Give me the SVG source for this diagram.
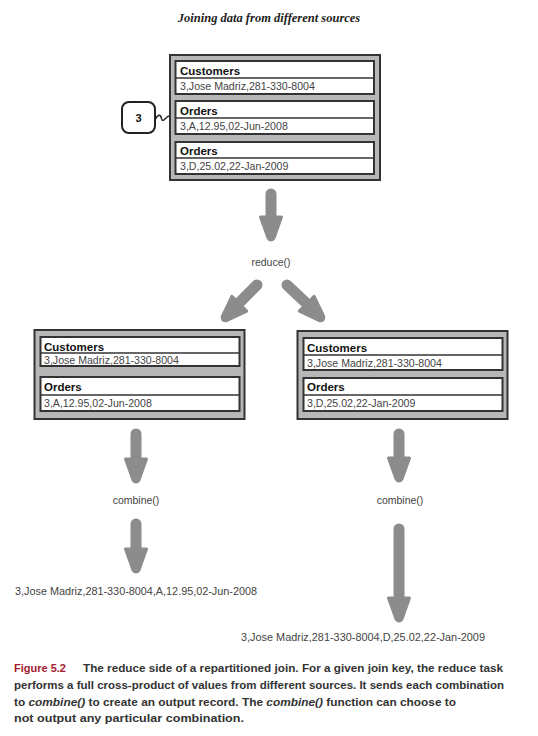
<svg xmlns="http://www.w3.org/2000/svg" width="538" height="736" viewBox="0 0 538 736">
<style>
.outer{fill:#b7b7b7;stroke:#333;stroke-width:2}
.inner{fill:#fff;stroke:#333;stroke-width:2}
.sep{stroke:#333;stroke-width:1.5}
.hdr{font-family:"Liberation Sans",Arial,sans-serif;font-weight:bold;font-size:11.5px;fill:#111}
.dat{font-family:"Liberation Sans",Arial,sans-serif;font-size:10.6px;fill:#444}
.lbl{font-family:"Liberation Sans",Arial,sans-serif;font-size:10.5px;fill:#444}
.shaft{stroke:#8c8c8c;stroke-width:11;stroke-linecap:round;fill:none}
.cap{font-family:"Liberation Sans",Arial,sans-serif;font-weight:bold;font-size:11px;fill:#333}
</style>
<defs>
<path id="head" d="M-10.5,-23 L10.5,-23 L3,-2 Q0,2 -3,-2 Z" fill="#8c8c8c" stroke="#8c8c8c" stroke-width="3" stroke-linejoin="round"/>
</defs>
<text x="269" y="22" text-anchor="middle" font-family="'Liberation Serif','Times New Roman',serif" font-weight="bold" font-style="italic" font-size="12.5" fill="#222">Joining data from different sources</text>

<g id="top-record">
<rect class="outer" x="170" y="55" width="210" height="125"/>
<rect class="inner" x="175.5" y="61" width="198.5" height="33"/>
<line class="sep" x1="175.5" y1="78" x2="374" y2="78"/>
<text class="hdr" x="180" y="75">Customers</text>
<text class="dat" x="180" y="89.5">3,Jose Madriz,281-330-8004</text>
<rect class="inner" x="175.5" y="101" width="198.5" height="33"/>
<line class="sep" x1="175.5" y1="118" x2="374" y2="118"/>
<text class="hdr" x="180" y="115">Orders</text>
<text class="dat" x="180" y="129.5">3,A,12.95,02-Jun-2008</text>
<rect class="inner" x="175.5" y="142" width="198.5" height="32"/>
<line class="sep" x1="175.5" y1="158" x2="374" y2="158"/>
<text class="hdr" x="180" y="155">Orders</text>
<text class="dat" x="180" y="169.5">3,D,25.02,22-Jan-2009</text>
</g>

<g id="key-label">
<rect x="122" y="102" width="33" height="31" rx="7" fill="#fff" stroke="#222" stroke-width="2"/>
<text x="138.5" y="122" text-anchor="middle" font-family="'Liberation Sans',Arial,sans-serif" font-weight="bold" font-size="11" fill="#111">3</text>
<path d="M155,120 C157,115 160,114 161,117 S162,122 165,119 S168,116 170,116" fill="none" stroke="#222" stroke-width="1.5"/>
</g>

<g id="left-record">
<rect class="outer" x="34.5" y="330" width="210" height="89"/>
<rect class="inner" x="40.5" y="337" width="199" height="29"/>
<line class="sep" x1="40.5" y1="353" x2="239.5" y2="353"/>
<text class="hdr" x="44" y="350.5">Customers</text>
<text class="dat" x="44" y="363.5">3,Jose Madriz,281-330-8004</text>
<rect class="inner" x="40.5" y="377" width="199" height="34"/>
<line class="sep" x1="40.5" y1="395" x2="239.5" y2="395"/>
<text class="hdr" x="44" y="391">Orders</text>
<text class="dat" x="44" y="406.5">3,A,12.95,02-Jun-2008</text>
</g>

<g id="right-record">
<rect class="outer" x="297.5" y="331" width="210" height="88"/>
<rect class="inner" x="303.5" y="338" width="199" height="32"/>
<line class="sep" x1="303.5" y1="355" x2="502.5" y2="355"/>
<text class="hdr" x="307" y="352">Customers</text>
<text class="dat" x="307" y="366.5">3,Jose Madriz,281-330-8004</text>
<rect class="inner" x="303.5" y="378" width="199" height="33"/>
<line class="sep" x1="303.5" y1="395" x2="502.5" y2="395"/>
<text class="hdr" x="307" y="391">Orders</text>
<text class="dat" x="307" y="406.5">3,D,25.02,22-Jan-2009</text>
</g>

<g id="connectors">
<line class="shaft" x1="271" y1="194" x2="271" y2="220"/>
<use href="#head" transform="translate(271,240)"/>
<line class="shaft" x1="257" y1="285" x2="240" y2="302"/>
<use href="#head" transform="translate(223,320) rotate(45)"/>
<line class="shaft" x1="287" y1="285" x2="305" y2="302"/>
<use href="#head" transform="translate(323,320) rotate(-45)"/>
<line class="shaft" x1="136" y1="434" x2="136" y2="460"/>
<use href="#head" transform="translate(136,482)"/>
<line class="shaft" x1="136" y1="524" x2="136" y2="550"/>
<use href="#head" transform="translate(136,572)"/>
<line class="shaft" x1="399" y1="434" x2="399" y2="460"/>
<use href="#head" transform="translate(399,481)"/>
<line class="shaft" x1="399" y1="529" x2="399" y2="598"/>
<use href="#head" transform="translate(399,621)"/>
</g>

<text class="lbl" x="271" y="266" text-anchor="middle">reduce()</text>
<text class="lbl" x="136" y="504" text-anchor="middle">combine()</text>
<text class="lbl" x="400" y="504" text-anchor="middle">combine()</text>
<text class="lbl" x="15" y="595" textLength="242" lengthAdjust="spacingAndGlyphs">3,Jose Madriz,281-330-8004,A,12.95,02-Jun-2008</text>
<text class="lbl" x="241" y="641" textLength="244" lengthAdjust="spacingAndGlyphs">3,Jose Madriz,281-330-8004,D,25.02,22-Jan-2009</text>

<text class="cap" x="14" y="672"><tspan fill="#a31a30">Figure 5.2</tspan></text>
<text class="cap" x="83" y="672" textLength="420" lengthAdjust="spacingAndGlyphs">The reduce side of a repartitioned join. For a given join key, the reduce task</text>
<text class="cap" x="14" y="689" textLength="490" lengthAdjust="spacingAndGlyphs">performs a full cross-product of values from different sources. It sends each combination</text>
<text class="cap" x="14" y="706" textLength="442" lengthAdjust="spacingAndGlyphs">to <tspan font-style="italic">combine()</tspan> to create an output record. The <tspan font-style="italic">combine()</tspan> function can choose to</text>
<text class="cap" x="14" y="722" textLength="230" lengthAdjust="spacingAndGlyphs">not output any particular combination.</text>
</svg>
